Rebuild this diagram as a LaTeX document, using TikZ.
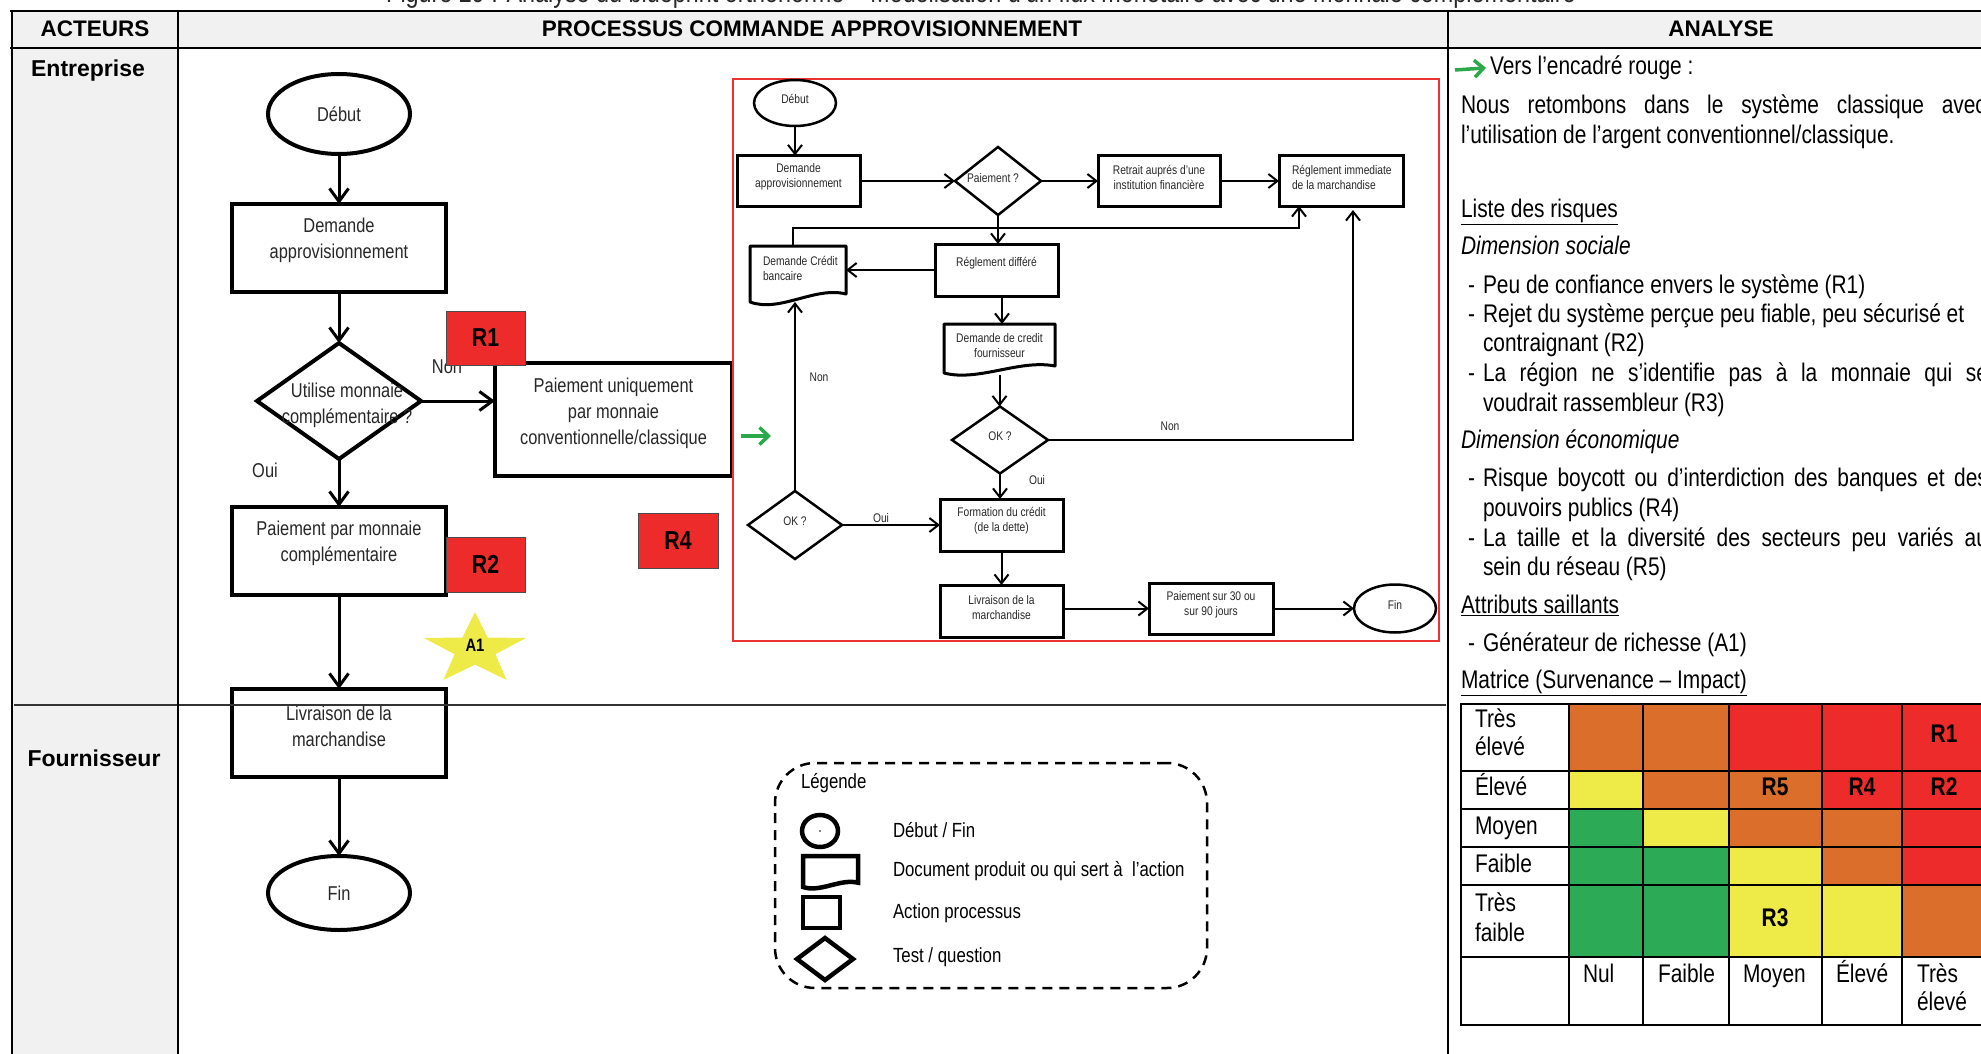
\documentclass[tikz,border=0pt]{standalone}
\usepackage{fontspec}
\setmainfont{Liberation Sans}
\newfontfamily\nar[FakeStretch=0.82]{Liberation Sans}
\usetikzlibrary{shapes.geometric,arrows.meta,calc}

\definecolor{rcell}{RGB}{237,43,43}
\definecolor{ocell}{RGB}{218,110,42}
\definecolor{ycell}{RGB}{238,235,72}
\definecolor{gcell}{RGB}{45,170,85}
\definecolor{rframe}{RGB}{236,50,50}
\definecolor{garrow}{RGB}{42,168,74}
\definecolor{panel}{RGB}{241,241,241}
\definecolor{ink}{RGB}{40,40,40}

\newcommand\fs[2]{\fontsize{#1}{#2}\selectfont}

\begin{document}
\begin{tikzpicture}[x=1pt,y=-1pt,
  every node/.style={inner sep=0pt,outer sep=0pt},
  tline/.style={line width=2.8pt},
  hdr/.style={font=\bfseries\fs{22.5}{27}},
  actor/.style={font=\bfseries\fs{23}{27},anchor=mid},
  % main flow chart
  mainbox/.style={draw,line width=4.5pt,rectangle,fill=white},
  mainoval/.style={draw,line width=4pt,ellipse,fill=white,font=\nar\fs{20}{26},text=ink},
  maindia/.style={draw,line width=4pt,diamond},
  mtext/.style={font=\nar\fs{20}{26},align=center,text=ink},
  marrow/.style={line width=3pt,-{Straight Barb[length=13pt,width=19pt]}},
  rtag/.style={draw=black!70,line width=1pt,fill=rcell,font=\nar\bfseries\fs{26}{30}},
  % inner flow chart
  ibox/.style={draw,line width=3pt,rectangle},
  ioval/.style={draw,line width=2.5pt,ellipse},
  idia/.style={draw,line width=2.5pt,diamond},
  itext/.style={font=\nar\fs{12.5}{15},align=center,text=ink},
  iarrow/.style={line width=2pt,-{Straight Barb[length=9pt,width=14pt]}},
  docline/.style={line width=3pt,line join=round},
  greenarr/.style={draw=garrow,line width=3.5pt,-{Straight Barb[length=9pt,width=17pt]}},
  % legend
  legframe/.style={draw,dash pattern=on 10pt off 7pt,line width=2.5pt,rounded corners=40pt},
  legicon/.style={draw,line width=4.5pt},
  ltext/.style={font=\nar\fs{20.5}{24},anchor=mid west},
  % analysis column
  rtext/.style={font=\nar\fs{25.5}{30},anchor=mid west},
  mcell/.style={font=\nar\fs{25.5}{30},anchor=mid west},
  mtag/.style={font=\nar\bfseries\fs{25.5}{30},anchor=mid},
]
\path[use as bounding box] (0,0) rectangle (1981,1054);
\clip (0,0) rectangle (1981,1054);
\fill[white] (0,0) rectangle (1981,1054);

% ---------- table background ----------
\fill[panel] (12,11) rectangle (1990,48);
\fill[panel] (12,48) rectangle (178,1060);

% caption above the table
\node[font=\nar\fs{28.5}{32},anchor=base,text=ink] (caption) at (981,3)
  {Figure 29 : Analyse du blueprint orthonormé – Modélisation d’un flux monétaire avec une monnaie complémentaire};

% header row
\node[hdr] (hA) at (95,29) {ACTEURS};
\node[hdr] (hP) at (812,29) {PROCESSUS COMMANDE APPROVISIONNEMENT};
\node[hdr] (hN) at (1721,29) {ANALYSE};

% actors
\node[actor] (lE) at (88,74) {Entreprise};
\node[actor] (lF) at (94,764) {Fournisseur};

% ---------- main flow chart ----------
\node[mainoval,minimum width=142,minimum height=80] (debut) at (339,114) {Début};
\node[mainbox,minimum width=214,minimum height=88,
  label={[mtext,yshift=8pt]center:{Demande\\approvisionnement}}] (dem) at (339,248) {};
\node[maindia,minimum width=164,minimum height=116] (util) at (339,401) {};
\node[mtext] (utiltxt) at (347,405) {Utilise monnaie\\complémentaire ?};
\node[mainbox,minimum width=237,minimum height=113,
  label={[mtext,yshift=6pt]center:{Paiement uniquement\\par monnaie\\conventionnelle/classique}}] (puc) at (613.5,419.5) {};
\node[mainbox,minimum width=214,minimum height=88,
  label={[mtext,yshift=8pt]center:{Paiement par monnaie\\complémentaire}}] (ppm) at (339,551) {};
\node[mainbox,minimum width=214,minimum height=88,
  label={[mtext,yshift=7pt]center:{Livraison de la\\marchandise}}] (liv) at (339,733) {};
\node[mainoval,minimum width=142,minimum height=74] (fin) at (339,893) {Fin};

\draw[marrow] (debut.south) -- (dem.north);
\draw[marrow] (dem.south) -- (util.north);
\draw[marrow] (util.east) -- (util.east -| puc.west);
\draw[marrow] (util.south) -- (ppm.north);
\draw[marrow] (ppm.south) -- (liv.north);
\draw[marrow] (liv.south) -- (fin.north);

\node[mtext] (nonA) at (447,367) {Non};
\node[mtext] (ouiA) at (265,470) {Oui};

% risk tags
\node[rtag,minimum width=79,minimum height=54] (r1) at (485.5,338) {R1};
\node[rtag,minimum width=79,minimum height=55] (r2) at (485.5,564.5) {R2};
\node[rtag,minimum width=80,minimum height=55] (r4) at (678,540.5) {R4};

% attribute star
\fill[ycell] (475,612) -- (487.6,637.5) -- (526.1,638) -- (495.4,654.2) -- (506.6,680)
  -- (475,664.6) -- (443.4,680) -- (454.6,654.2) -- (423.9,638) -- (462.4,637.5) -- cycle;
\node[font=\nar\bfseries\fs{18}{20}] (a1) at (475,645) {A1};

% pointer to the red frame
\draw[greenarr] (741,436) -- (771,436);

% ---------- red frame: classical payment ----------
\draw[rframe,line width=1.6pt] (733,79) rectangle (1439,641);

\node[ioval,minimum width=82,minimum height=46,
  label={[itext,yshift=4pt]center:Début}] (d2) at (795,103) {};
\node[ibox,minimum width=123,minimum height=51,
  label={[itext,yshift=4pt]center:{Demande\\approvisionnement}}] (dem2) at (798.5,181) {};
\node[idia,minimum width=86,minimum height=68,
  label={[itext,xshift=-5pt,yshift=3pt]center:{Paiement ?}}] (pay) at (998,181) {};
\node[ibox,minimum width=122,minimum height=51,
  label={[itext,yshift=4pt]center:{Retrait auprés d’une\\institution financière}}] (ret) at (1159,181) {};
\node[ibox,minimum width=124,minimum height=51] (rim) at (1341,181) {};
\node[itext,align=left,anchor=west] (rimtxt) at ($(rim.west)+(13,-4)$) {Réglement immediate\\de la marchandise};
\node[ibox,minimum width=123,minimum height=52,
  label={[itext,yshift=7pt]center:{Réglement différé}}] (rdiff) at (996.5,270) {};

% document shapes
\node[minimum width=96,minimum height=56] (dcb) at (798,274) {};
\draw[docline] (750,246) -- (846,246) -- (846,294) .. controls (815,286) and (780,313) .. (750,302) -- cycle;
\node[itext,align=left,anchor=west] (dcbtxt) at ($(dcb.west)+(13,-6)$) {Demande Crédit\\bancaire};
\node[minimum width=111,minimum height=51] (dcf) at (999.5,349.5) {};
\draw[docline] (944,324) -- (1055,324) -- (1055,366) .. controls (1019.5,359) and (978.4,382) .. (944,373) -- cycle;
\node[itext] (dcftxt) at ($(dcf.center)+(0,-4)$) {Demande de credit\\fournisseur};

\node[idia,minimum width=96,minimum height=67,
  label={[itext,yshift=4pt]center:{OK ?}}] (ok1) at (1000,440) {};
\node[ibox,minimum width=123,minimum height=52,
  label={[itext,yshift=4pt]center:{Formation du crédit\\(de la dette)}}] (form) at (1001.5,525) {};
\node[idia,minimum width=94,minimum height=68,
  label={[itext,yshift=4pt]center:{OK ?}}] (ok2) at (795,525) {};
\node[ibox,minimum width=123,minimum height=52,
  label={[itext,yshift=3pt]center:{Livraison de la\\marchandise}}] (liv2) at (1001.5,611) {};
\node[ibox,minimum width=124,minimum height=51,
  label={[itext,yshift=4pt]center:{Paiement sur 30 ou\\sur 90 jours}}] (p30) at (1211,608.5) {};
\node[ioval,minimum width=82,minimum height=48,
  label={[itext,yshift=4pt]center:Fin}] (fin2) at (1395,608.5) {};

\coordinate (turnA) at (793,228);
\coordinate (rdS) at (1002,296);
\coordinate (rimL) at (1299,206);
\coordinate (rimR) at (1353,210);
\draw[iarrow] (d2.south) -- (d2.south |- dem2.north);
\draw[iarrow] (dem2.east) -- (pay.west);
\draw[iarrow] (pay.east) -- (ret.west);
\draw[iarrow] (ret.east) -- (rim.west);
\draw[iarrow] (pay.south) -- (pay.south |- rdiff.north);
\draw[iarrow] (rdiff.west) -- (rdiff.west -| dcb.east);
\draw[iarrow] (dcb.north -| turnA) -- (turnA) -| (rimL);
\draw[iarrow] (rdS) -- (rdS |- dcf.north);
\draw[iarrow] (dcf.south) -- (dcf.south |- ok1.north);
\draw[iarrow] (ok1.east) -| (rimR);
\draw[iarrow] (ok1.south) -- (ok1.south |- form.north);
\draw[iarrow] (ok2.north) -- (ok2.north |- dcb.south);
\draw[iarrow] (ok2.east) -- (ok2.east -| form.west);
\draw[iarrow] (form.south) -- (liv2.north);
\draw[iarrow] (liv2.east |- p30.west) -- (p30.west);
\draw[iarrow] (p30.east) -- (fin2.west);

\node[itext] (nonB) at (1170,426) {Non};
\node[itext] (ouiB) at (1037,480) {Oui};
\node[itext] (nonC) at (819,377) {Non};
\node[itext] (ouiC) at (881,518) {Oui};

% ---------- legend ----------
\node[legframe,minimum width=432,minimum height=225] (leg) at (991,875.5) {};
\node[ltext] (legT) at (801,786) {Légende};
\node[legicon,ellipse,minimum width=36,minimum height=32] (lgo) at (820,831) {};
\fill (lgo.center) circle (0.8);
\node[minimum width=55,minimum height=31] (lgd) at (830.5,871.5) {};
\draw[legicon,line join=miter] (803,856) -- (858,856) -- (858,882.7) .. controls (840.4,878.3) and (820,892.9) .. (803,887) -- cycle;
\node[legicon,minimum width=37,minimum height=31] (lgs) at (821.5,912.5) {};
\node[legicon,diamond,minimum width=56,minimum height=42] (lgm) at (825,959) {};
\node[ltext] (lg1) at (893,835) {Début / Fin};
\node[ltext] (lg2) at (893,874) {Document produit ou qui sert à \ l’action};
\node[ltext] (lg3) at (893,916) {Action processus};
\node[ltext] (lg4) at (893,960) {Test / question};

% lane separator
\draw[line width=1.5pt,black!80] (14,705) -- (1446,705);

% ---------- table rules ----------
\draw[tline] (10,11) -- (1990,11);
\draw[tline] (10,48) -- (1990,48);
\draw[tline] (12,10) -- (12,1060);
\draw[tline] (178,10) -- (178,1060);
\draw[tline] (1448,10) -- (1448,1060);

% ---------- analysis column ----------
\node[rtext] (t1) at (1490,72) {Vers l’encadré rouge :};
\draw[greenarr] (1455,70) -- ([xshift=-4pt]t1.west);
\node[rtext] (t2) at (1461,111) {\makebox[525pt][s]{Nous retombons dans le système classique avec}};
\node[rtext] (t3) at (1461,141) {l’utilisation de l’argent conventionnel/classique.};
\node[rtext] (t4) at (1461,215) {\underline{Liste des risques}};
\node[rtext] (t5) at (1461,252) {\itshape Dimension sociale};
\node[rtext] (d1) at (1468,291) {-};
\node[rtext] (t6) at (1483,291) {Peu de confiance envers le système (R1)};
\node[rtext] (d2b) at (1468,320) {-};
\node[rtext] (t7) at (1483,320) {Rejet du système perçue peu fiable, peu sécurisé et};
\node[rtext] (t8) at (1483,349) {contraignant (R2)};
\node[rtext] (d3) at (1468,379) {-};
\node[rtext] (t9) at (1483,379) {\makebox[505pt][s]{La région ne s’identifie pas à la monnaie qui se}};
\node[rtext] (t10) at (1483,409) {voudrait rassembleur (R3)};
\node[rtext] (t11) at (1461,446) {\itshape Dimension économique};
\node[rtext] (d4) at (1468,484) {-};
\node[rtext] (t12) at (1483,484) {\makebox[505pt][s]{Risque boycott ou d’interdiction des banques et des}};
\node[rtext] (t13) at (1483,514) {pouvoirs publics (R4)};
\node[rtext] (d5) at (1468,544) {-};
\node[rtext] (t14) at (1483,544) {\makebox[505pt][s]{La taille et la diversité des secteurs peu variés au}};
\node[rtext] (t15) at (1483,573) {sein du réseau (R5)};
\node[rtext] (t16) at (1461,611) {\underline{Attributs saillants}};
\node[rtext] (d6) at (1468,649) {-};
\node[rtext] (t17) at (1483,649) {Générateur de richesse (A1)};
\node[rtext] (t18) at (1461,686) {\underline{Matrice (Survenance – Impact)}};

% ---------- risk matrix ----------
\foreach \ya/\yb/\ca/\cb/\cc/\cd/\ce in {
  704/771/ocell/ocell/rcell/rcell/rcell,
  771/809/ycell/ocell/ocell/rcell/rcell,
  809/847/gcell/ycell/ocell/ocell/rcell,
  847/885/gcell/gcell/ycell/ocell/rcell,
  885/957/gcell/gcell/ycell/ycell/ocell}{
  \fill[\ca] (1569,\ya) rectangle (1643,\yb);
  \fill[\cb] (1643,\ya) rectangle (1729,\yb);
  \fill[\cc] (1729,\ya) rectangle (1822,\yb);
  \fill[\cd] (1822,\ya) rectangle (1902,\yb);
  \fill[\ce] (1902,\ya) rectangle (1990,\yb);
}
\foreach \yy in {704,771,809,847,885,957,1025}
  \draw[line width=2.5pt] (1460,\yy) -- (1990,\yy);
\foreach \xx in {1461,1569,1643,1729,1822,1902}
  \draw[line width=2.5pt] (\xx,703) -- (\xx,1026);

\node[mcell] (m1) at (1475,725) {Très};
\node[mcell] (m2) at (1475,753) {élevé};
\node[mcell] (m3) at (1475,793) {Élevé};
\node[mcell] (m4) at (1475,832) {Moyen};
\node[mcell] (m5) at (1475,870) {Faible};
\node[mcell] (m6) at (1475,909) {Très};
\node[mcell] (m7) at (1475,939) {faible};
\node[mcell] (c1) at (1583,980) {Nul};
\node[mcell] (c2) at (1658,980) {Faible};
\node[mcell] (c3) at (1743,980) {Moyen};
\node[mcell] (c4) at (1836,980) {Élevé};
\node[mcell] (c5) at (1917,980) {Très};
\node[mcell] (c6) at (1917,1008) {élevé};

\node[mtag] (k1) at (1944,740) {R1};
\node[mtag] (k5) at (1775,793) {R5};
\node[mtag] (k4) at (1862,793) {R4};
\node[mtag] (k2) at (1944,793) {R2};
\node[mtag] (k3) at (1775,924) {R3};
\end{tikzpicture}
\end{document}
